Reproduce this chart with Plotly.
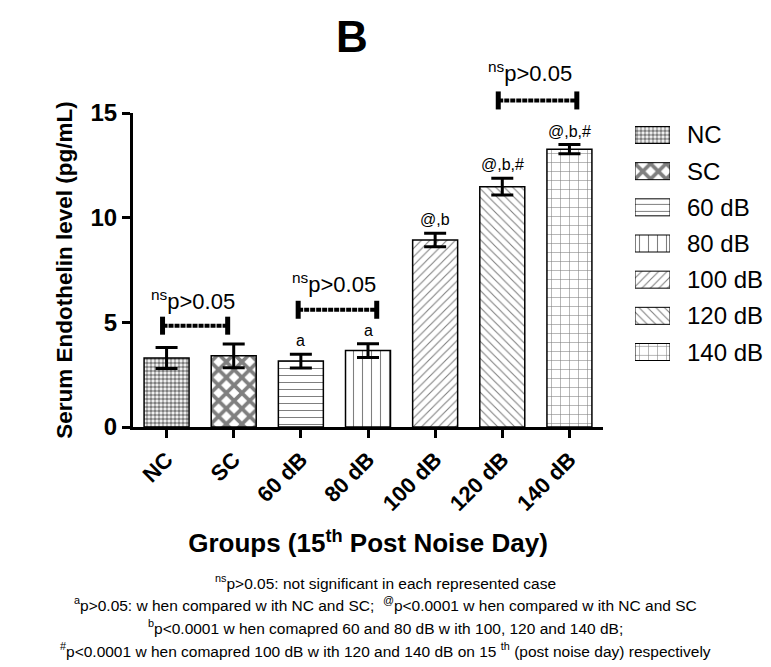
import plotly.graph_objects as go

groups = ["NC", "SC", "60 dB", "80 dB", "100 dB", "120 dB", "140 dB"]
means = [3.3, 3.4, 3.15, 3.65, 8.93, 11.48, 13.27]
sems = [0.5, 0.57, 0.33, 0.33, 0.32, 0.4, 0.22]
sig_labels = ["", "", "a", "a", "@,b", "@,b,#", "@,b,#"]
patterns = [".", "x", "-", "|", "/", "\\", "+"]
pattern_sizes = [4, 11, 7, 9, 6, 6, 9]
pattern_solid = [0.65, 0.55, 0.15, 0.12, 0.18, 0.18, 0.12]

# significance brackets: (left position, right position, height)
brackets = [(-0.06, 0.91, 4.84), (1.96, 3.13, 5.6), (4.94, 6.11, 15.6)]
bracket_text_pos = [(0.39, 6.07), (2.49, 6.88), (5.42, 16.96)]
bracket_text = "<sup>ns</sup>p>0.05"

footnotes = [
    "<sup>ns</sup>p>0.05: not significant in each represented case",
    "<sup>a</sup>p>0.05: w hen compared w ith NC and SC;  <sup>@</sup>p<0.0001 w hen compared w ith NC and SC",
    "<sup>b</sup>p<0.0001 w hen comapred 60 and 80 dB w ith 100, 120 and 140 dB;",
    "<sup>#</sup>p<0.0001 w hen comapred 100 dB w ith 120 and 140 dB on 15 <sup>th</sup> (post noise day) respectively",
]

FONT = "Liberation Sans, Arial, sans-serif"
OFF = 8  # page body margin
Y_MAX = 15
Y_DOM = 314 / 387
Y2_MAX = Y_MAX / Y_DOM
X_DOM = 470 / 628

fig = go.Figure()
for i, g in enumerate(groups):
    pat = dict(shape=patterns[i], size=pattern_sizes[i], solidity=pattern_solid[i],
               fgcolor="black", bgcolor="white")
    fig.add_trace(go.Bar(
        x=[g], y=[means[i]], name=g, width=0.67, showlegend=False,
        marker=dict(color="white", line=dict(color="black", width=1.5), pattern=pat),
        error_y=dict(type="data", array=[sems[i]], color="black", thickness=3, width=11),
        xaxis="x", yaxis="y",
    ))
    # legend swatch
    fig.add_trace(go.Bar(
        x=[1], y=[i], orientation="h", width=0.47, showlegend=False,
        marker=dict(color="white", line=dict(color="black", width=1), pattern=pat),
        xaxis="x3", yaxis="y3", hoverinfo="skip",
    ))

for (x0, x1, yb) in brackets:
    fig.add_trace(go.Scatter(
        x=[x0, x1], y=[yb, yb], xaxis="x2", yaxis="y2", showlegend=False,
        hoverinfo="skip", mode="lines", cliponaxis=False,
        line=dict(color="black", width=4, dash="5px,1px"),
        error_y=dict(type="constant", value=0.43, color="black", thickness=5, width=0),
    ))

annotations = []
for (xt, yt) in bracket_text_pos:
    annotations.append(dict(x=xt, y=yt, xref="x2", yref="y2", text=bracket_text,
                            showarrow=False, xanchor="center", yanchor="middle",
                            font=dict(size=22, color="black", family=FONT)))
for i, g in enumerate(groups):
    if sig_labels[i]:
        annotations.append(dict(x=i, y=means[i] + sems[i], xref="x2", yref="y2",
                                text=sig_labels[i], showarrow=False,
                                xanchor="center", yanchor="bottom", yshift=3,
                                font=dict(size=16, color="black", family=FONT)))
    annotations.append(dict(x=1, y=i, xref="x3", yref="y3", text=g, showarrow=False,
                            xanchor="left", yanchor="middle", xshift=15,
                            font=dict(size=24, color="black", family=FONT)))

annotations.append(dict(x=(352 - 133) / 628, y=(427 - 37) / 387, xref="paper",
                        yref="paper", text="<b>B</b>", showarrow=False,
                        xanchor="center", yanchor="middle",
                        font=dict(size=44, color="black", family=FONT)))

foot_y = [582, 604, 627, 650]
for t, yy in zip(footnotes, foot_y):
    annotations.append(dict(x=(385 - 133) / 628, y=(427 - yy) / 387, xref="paper",
                            yref="paper", text=t, showarrow=False,
                            xanchor="center", yanchor="middle",
                            font=dict(size=15.5, color="black", family=FONT)))

fig.update_layout(
    width=771 - OFF, height=667 - OFF,
    margin=dict(l=133 - OFF, r=10, t=40 - OFF, b=240),
    paper_bgcolor="white", plot_bgcolor="rgba(0,0,0,0)",
    font=dict(family=FONT, color="black"),
    showlegend=False,
    xaxis=dict(type="category", domain=[0, X_DOM], range=[-0.5, 6.5], anchor="y",
               showline=True, linecolor="black", linewidth=3, ticks="outside",
               ticklen=8, tickwidth=3, tickcolor="black", tickangle=-45,
               tickfont=dict(size=22, family=FONT, color="black", weight="bold"),
               title=dict(text="<b>Groups (15<sup>th</sup> Post Noise Day)</b>",
                          font=dict(size=26, family=FONT, color="black"), standoff=20),
               showgrid=False, zeroline=False, fixedrange=True),
    yaxis=dict(domain=[0, Y_DOM], range=[0, Y_MAX], anchor="x", showline=True,
               linecolor="black", linewidth=3, ticks="outside", ticklen=8,
               tickwidth=3, tickcolor="black", tickvals=[0, 5, 10, 15],
               tickfont=dict(size=24, family=FONT, color="black", weight="bold"),
               title=dict(text="<b>Serum Endothelin level (pg/mL)</b>",
                          font=dict(size=22.5, family=FONT, color="black"), standoff=12),
               showgrid=False, zeroline=False, fixedrange=True),
    xaxis2=dict(domain=[0, X_DOM], range=[-0.5, 6.5], anchor="y2", visible=False,
                fixedrange=True),
    yaxis2=dict(domain=[0, 1], range=[0, Y2_MAX], anchor="x2", visible=False,
                fixedrange=True),
    xaxis3=dict(domain=[(635 - 133) / 628, (670 - 133) / 628], range=[0, 1],
                anchor="y3", visible=False, fixedrange=True),
    yaxis3=dict(domain=[(427 - 370.1) / 387, (427 - 116.9) / 387], range=[6.5, -0.5],
                anchor="x3", visible=False, fixedrange=True),
    annotations=annotations,
)

fig.write_html("out.html")
